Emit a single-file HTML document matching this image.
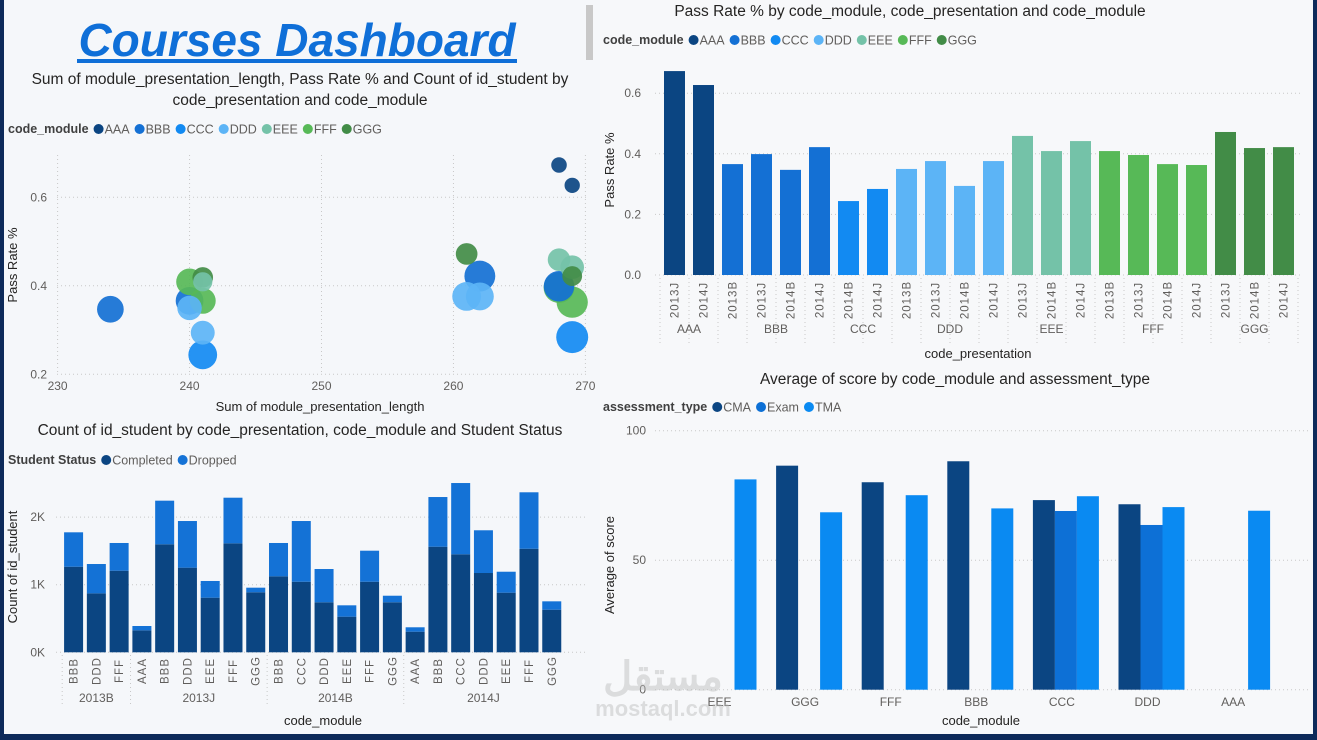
<!DOCTYPE html>
<html><head><meta charset="utf-8"><style>
html,body{margin:0;padding:0;width:1317px;height:740px;overflow:hidden;background:#f4f6f9;}
svg{display:block;font-family:"Liberation Sans","Noto Sans CJK SC",sans-serif;}
</style></head><body>
<svg id="dash" width="1317" height="740" viewBox="0 0 1317 740" xmlns="http://www.w3.org/2000/svg">
<rect x="0" y="0" width="1317" height="740" fill="#0d2a5a"/>
<rect x="4" y="0" width="1309" height="734" fill="#f5f7fa"/>
<rect x="600" y="0" width="711" height="734" fill="#f7f8fa"/>
<rect x="586" y="5" width="7" height="55" fill="#c8c8c8"/>
<text x="297" y="56" text-anchor="middle" font-size="46" font-weight="bold" font-style="italic" fill="#0f6fd8">Courses Dashboard</text>
<rect x="77" y="59" width="440" height="4" fill="#0f6fd8"/>

<text x="300" y="84" text-anchor="middle" font-size="15.5" fill="#252423">Sum of module_presentation_length, Pass Rate % and Count of id_student by</text>
<text x="300" y="105" text-anchor="middle" font-size="15.5" fill="#252423">code_presentation and code_module</text>
<text x="910" y="16" text-anchor="middle" font-size="15.5" fill="#252423">Pass Rate % by code_module, code_presentation and code_module</text>
<text x="955" y="384" text-anchor="middle" font-size="15.5" fill="#252423">Average of score by code_module and assessment_type</text>
<text x="300" y="435" text-anchor="middle" font-size="15.5" fill="#252423">Count of id_student by code_presentation, code_module and Student Status</text>

<text x="17" y="265" transform="rotate(-90 17 265)" text-anchor="middle" font-size="13" fill="#252423">Pass Rate %</text>
<text x="320" y="411" text-anchor="middle" font-size="13" fill="#252423">Sum of module_presentation_length</text>
<text x="614" y="170" transform="rotate(-90 614 170)" text-anchor="middle" font-size="13" fill="#252423">Pass Rate %</text>
<text x="978" y="358" text-anchor="middle" font-size="13" fill="#252423">code_presentation</text>
<text x="17" y="567" transform="rotate(-90 17 567)" text-anchor="middle" font-size="13" fill="#252423">Count of id_student</text>
<text x="323" y="725" text-anchor="middle" font-size="13" fill="#252423">code_module</text>
<text x="614" y="565" transform="rotate(-90 614 565)" text-anchor="middle" font-size="13" fill="#252423">Average of score</text>
<text x="981" y="725" text-anchor="middle" font-size="13" fill="#252423">code_module</text>

<g id="g-scatter"></g><g id="g-pass"></g><g id="g-count"></g><g id="g-score"></g><g id="g-legend"></g>
<text x="663" y="690" text-anchor="middle" font-size="40" font-weight="bold" fill="#bbbbbb" opacity="0.45">مستقل</text>
<text x="663" y="716" text-anchor="middle" font-size="22" font-weight="bold" fill="#bbbbbb" opacity="0.45">mostaql.com</text>
</svg>
<script>
// ---- shared ----
const modules = ["AAA","BBB","CCC","DDD","EEE","FFF","GGG"];
const moduleColors = {AAA:"#0b4582",BBB:"#1470d4",CCC:"#128af2",DDD:"#5cb4f6",EEE:"#74c2a8",FFF:"#57b957",GGG:"#428c47"};
// ---- scatter data ----
const scModule = ["AAA","AAA","BBB","BBB","BBB","BBB","CCC","CCC","DDD","DDD","DDD","DDD","EEE","EEE","EEE","FFF","FFF","FFF","FFF","GGG","GGG","GGG"];
const scLength = [268,269,240,268,234,262,241,269,240,261,241,262,268,241,269,240,268,241,269,261,241,269];
const scPass = [0.673,0.627,0.366,0.399,0.347,0.422,0.244,0.284,0.35,0.376,0.294,0.376,0.459,0.409,0.442,0.409,0.396,0.366,0.363,0.472,0.419,0.422];
const scCount = [383,365,1767,2237,1613,2292,1936,2498,1303,1938,1228,1803,1052,694,1188,1614,2283,1500,2365,952,833,749];
const scXTicks = [230,240,250,260,270];
const scYTicks = [0.2,0.4,0.6];
// ---- pass-rate bar data ----
const prModule = ["AAA","AAA","BBB","BBB","BBB","BBB","CCC","CCC","DDD","DDD","DDD","DDD","EEE","EEE","EEE","FFF","FFF","FFF","FFF","GGG","GGG","GGG"];
const prPresentation = ["2013J","2014J","2013B","2013J","2014B","2014J","2014B","2014J","2013B","2013J","2014B","2014J","2013J","2014B","2014J","2013B","2013J","2014B","2014J","2013J","2014B","2014J"];
const prValues = [0.673,0.627,0.366,0.399,0.347,0.422,0.244,0.284,0.35,0.376,0.294,0.376,0.459,0.409,0.442,0.409,0.396,0.366,0.363,0.472,0.419,0.422];
const prTicks = [0.0,0.2,0.4,0.6];
// ---- stacked count data ----
const ctPresentation = ["2013B","2013B","2013B","2013J","2013J","2013J","2013J","2013J","2013J","2014B","2014B","2014B","2014B","2014B","2014B","2014J","2014J","2014J","2014J","2014J","2014J","2014J"];
const ctModule = ["BBB","DDD","FFF","AAA","BBB","DDD","EEE","FFF","GGG","BBB","CCC","DDD","EEE","FFF","GGG","AAA","BBB","CCC","DDD","EEE","FFF","GGG"];
const ctCompleted = [1266,872,1207,325,1598,1252,808,1612,888,1124,1044,740,527,1044,740,305,1562,1450,1173,882,1532,630];
const ctDropped = [509,434,410,64,645,690,247,675,68,493,898,492,168,459,97,65,735,1054,632,310,835,124];
const ctTicks = [0,1000,2000];
const ctTickLabels = ["0K","1K","2K"];
// ---- score data ----
const scoreCats = ["EEE","GGG","FFF","BBB","CCC","DDD","AAA"];
const scoreTypes = ["CMA","Exam","TMA"];
const scoreCMA = [null,86.5,80.1,88.2,73.2,71.6,null];
const scoreExam = [null,null,null,null,69.0,63.6,null];
const scoreTMA = [81.2,68.5,75.1,70.0,74.7,70.5,69.1];
const scoreTicks = [0,50,100];
const typeColors = {CMA:"#0b4582",Exam:"#0d70d6",TMA:"#0a8af2"};
const statusColors = {Completed:"#0b4582",Dropped:"#1472d6"};

const NS="http://www.w3.org/2000/svg";
function mk(parent,tag,attrs,txt){const e=document.createElementNS(NS,tag);for(const k in attrs)e.setAttribute(k,attrs[k]);if(txt!==undefined)e.textContent=txt;parent.appendChild(e);return e;}

// ---- scatter ----
(function(){
const g=document.getElementById('g-scatter');
const x=v=>57.6+(v-230)*(585.4-57.6)/40;
const y=v=>374.3-(v-0.2)*(374.3-197.3)/0.4;
const r=c=>2.5+0.27*Math.sqrt(c);
scXTicks.forEach(t=>{
 const l=mk(g,'line',{x1:x(t),x2:x(t),y1:155,y2:374,stroke:'#c8c8c8','stroke-dasharray':'1 3'});
 
 
 const tx=mk(g,'text',{x:x(t),y:390,'text-anchor':'middle','font-size':12,fill:'#605e5c'},String(t));
 
 
});
scYTicks.forEach(t=>{
 const l=mk(g,'line',{x1:57,x2:586,y1:y(t),y2:y(t),stroke:'#c8c8c8','stroke-dasharray':'1 3'});
 
 
 const tx=mk(g,'text',{x:47,y:y(t)+4,'text-anchor':'end','font-size':12,fill:'#605e5c'},t.toFixed(1));
 
 
});
const order=scCount.map((c,i)=>i).sort((a,b)=>scCount[b]-scCount[a]);
order.forEach(i=>{
 const c=mk(g,'circle',{cx:x(scLength[i]),cy:y(scPass[i]),r:r(scCount[i]),fill:moduleColors[scModule[i]],'fill-opacity':0.92});
 
 
});
})();

// ---- pass rate bars ----
(function(){
const g=document.getElementById('g-pass');
const x0=660,step=29,bw=21;
const y=v=>275-v*303;
prTicks.forEach(t=>{
 const l=mk(g,'line',{x1:655,x2:1300,y1:y(t),y2:y(t),stroke:'#c8c8c8','stroke-dasharray':'1 3'});
 
 
 const tx=mk(g,'text',{x:641,y:y(t)+4,'text-anchor':'end','font-size':12,fill:'#605e5c'},t.toFixed(1));
 
 
});
prValues.forEach((v,i)=>{
 const cx=x0+step*(i+0.5);
 const b=mk(g,'rect',{x:cx-bw/2,y:y(v),width:bw,height:275-y(v),fill:moduleColors[prModule[i]]});
 
 
 const t=mk(g,'text',{x:cx+4,y:300,transform:`rotate(-90 ${cx+4} 300)`,'text-anchor':'middle','font-size':11.5,fill:'#605e5c','letter-spacing':'1'},prPresentation[i]);
 
 
});
let s=0;
for(let i=0;i<=prModule.length;i++){
 if(i===prModule.length||prModule[i]!==prModule[s]){
  const xs=x0+step*s,xe=x0+step*i;
  const t=mk(g,'text',{x:(xs+xe)/2,y:333,'text-anchor':'middle','font-size':12,fill:'#605e5c'},prModule[s]);
  
  
  s=i;
 }
 const l=mk(g,'line',{x1:x0+step*i,x2:x0+step*i,y1:278,y2:345,stroke:'#c8c8c8','stroke-dasharray':'1 3'});
 
 
}
})();

// ---- stacked count ----
(function(){
const g=document.getElementById('g-count');
const x0=62.2,step=22.77,bw=19;
const y=v=>652.3-v*0.0676;
ctTicks.forEach((t,k)=>{
 const l=mk(g,'line',{x1:56,x2:586,y1:y(t),y2:y(t),stroke:'#c8c8c8','stroke-dasharray':'1 3'});
 
 
 const tx=mk(g,'text',{x:45,y:y(t)+4,'text-anchor':'end','font-size':12,fill:'#605e5c'},ctTickLabels[k]);
 
 
});
ctCompleted.forEach((c,i)=>{
 const cx=x0+step*(i+0.5), d=ctDropped[i];
 const b1=mk(g,'rect',{x:cx-bw/2,y:y(c),width:bw,height:652.3-y(c),fill:statusColors.Completed});
 
 
 const b2=mk(g,'rect',{x:cx-bw/2,y:y(c+d),width:bw,height:y(c)-y(c+d),fill:statusColors.Dropped});
 
 
 const t=mk(g,'text',{x:cx+4,y:671,transform:`rotate(-90 ${cx+4} 671)`,'text-anchor':'middle','font-size':11.5,fill:'#605e5c','letter-spacing':'1'},ctModule[i]);
 
 
});
let s=0;
for(let i=0;i<=ctPresentation.length;i++){
 if(i===ctPresentation.length||ctPresentation[i]!==ctPresentation[s]){
  const xs=x0+step*s,xe=x0+step*i;
  const t=mk(g,'text',{x:(xs+xe)/2,y:702,'text-anchor':'middle','font-size':12,fill:'#605e5c'},ctPresentation[s]);
  
  
  const l=mk(g,'line',{x1:xs,x2:xs,y1:655,y2:706,stroke:'#c8c8c8','stroke-dasharray':'1 3'});
  
  
  s=i;
 }
}
})();

// ---- score ----
(function(){
const g=document.getElementById('g-score');
const y=v=>689.7-v*2.59;
const cx0=723.5,cstep=85.6,bw=22;
scoreTicks.forEach(t=>{
 const l=mk(g,'line',{x1:655,x2:1310,y1:y(t),y2:y(t),stroke:'#c8c8c8','stroke-dasharray':'1 3'});
 
 
 const tx=mk(g,'text',{x:646,y:y(t)+4,'text-anchor':'end','font-size':12,fill:'#605e5c'},String(t));
 
 
});
const series=[scoreCMA,scoreExam,scoreTMA];
scoreCats.forEach((c,i)=>{
 const cx=cx0+cstep*i;
 series.forEach((arr,k)=>{
  const v=arr[i]; if(v===null) return;
  const bx=cx-33+k*bw;
  const b=mk(g,'rect',{x:bx,y:y(v),width:bw,height:689.7-y(v),fill:typeColors[scoreTypes[k]]});
  
  
 });
 const t=mk(g,'text',{x:cx-4,y:706,'text-anchor':'middle','font-size':12,fill:'#605e5c'},c);
 
 
});
})();

// ---- legends ----
(function(){
const g=document.getElementById('g-legend');
function legend(x,y,title,names,colors,prefix){
 const tt=mk(g,'text',{x:x,y:y+4,'font-size':12.5,'font-weight':'bold',fill:'#404040'},title);
 
 
 let cx=x+tt.getComputedTextLength()+10;
 names.forEach(n=>{
  const c=mk(g,'circle',{cx:cx,cy:y,r:5,fill:colors[n]});
  
  
  const t=mk(g,'text',{x:cx+6,y:y+4.5,'font-size':12.5,fill:'#605e5c'},n);
  
  
  cx+=6+t.getComputedTextLength()+10;
 });
}
legend(8,129,'code_module',modules,moduleColors,'scatter');
legend(603,40,'code_module',modules,moduleColors,'passrate');
legend(603,407,'assessment_type',scoreTypes,typeColors,'score');
legend(8,460,'Student Status',["Completed","Dropped"],statusColors,'count');
})();
</script>
</body></html>
